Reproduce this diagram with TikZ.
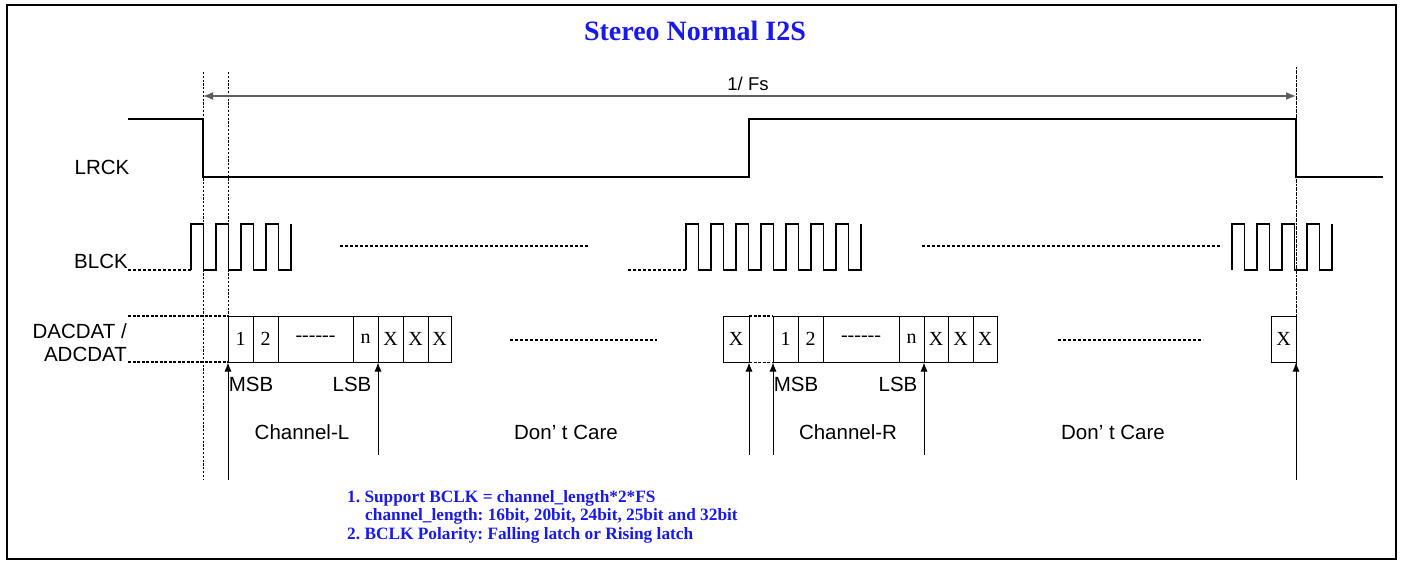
\documentclass[tikz,border=0pt]{standalone}
\usepackage{fontspec}
\setmainfont{Liberation Serif}
\setsansfont{Liberation Sans}
\usetikzlibrary{arrows.meta}
\definecolor{tblue}{RGB}{25,25,235}
\definecolor{agray}{RGB}{95,95,95}
\begin{document}
\begin{tikzpicture}[x=1pt,y=-1pt,
  sig/.style={line width=1.7pt},
  clk/.style={line width=1.4pt},
  vdash/.style={line width=0.8pt, dash pattern=on 2.2pt off 1.6pt},
  dotl/.style={line width=1.2pt, dash pattern=on 3pt off 2pt},
  dshort/.style={line width=1.2pt, dash pattern=on 3pt off 1.5pt},
  cell/.style={draw, line width=0.8pt, minimum height=46.5pt, inner sep=0pt, outer sep=0pt, anchor=north west, font=\fontsize{20}{20}\selectfont},
  lbl/.style={font=\sffamily\fontsize{20.5}{23}\selectfont, inner sep=0pt},
  note/.style={font=\frenchspacing\bfseries\fontsize{17.3}{18}\selectfont, text=tblue, anchor=base west, inner sep=0pt},
  uparrow/.style={line width=0.9pt, -{Latex[length=9pt,width=7pt]}},
  fsarrow/.style={agray, line width=1.6pt, {Latex[length=10pt,width=8pt]}-{Latex[length=10pt,width=8pt]}}
]
\useasboundingbox (0,0) rectangle (1405,561);
\draw[line width=1.6pt] (7,5) rectangle (1396,559);

% title
\node[font=\bfseries\fontsize{28}{28}\selectfont, text=tblue] (title) at (695,31) {Stereo Normal I2S};

% vertical reference lines
\draw[vdash] (203,72) -- (203,480);
\draw[vdash] (228,72) -- (228,316);
\draw[line width=0.8pt, dash pattern=on 2pt off 0.6pt] (1296,67) -- (1296,480);

% 1/Fs arrow
\coordinate (fsL) at (203,96);
\coordinate (fsR) at (1296,96);
\draw[fsarrow] (fsL) -- (fsR);
\node[lbl, font=\sffamily\fontsize{18.5}{18.5}\selectfont] (fs) at (748,84) {1/ Fs};

% LRCK
\node[lbl] (lrck) at (102,167) {LRCK};
\draw[sig] (128,119) -| (203,177) -| (749,119) -| (1296,177) -- (1383,177);

% BCLK
\node[lbl] (bclk) at (101,261) {BLCK};
\draw[dotl] (128,270) -- (191,270);
\draw[clk] (191,270) \foreach \i in {1,...,4}{ -- ++(0,-46) -- ++(12.5,0) -- ++(0,46) -- ++(12.5,0)} -- ++(0,-46);
\draw[dotl] (340,246) -- (588,246);
\draw[dotl] (628,270) -- (686,270);
\draw[clk] (686,270) \foreach \i in {1,...,7}{ -- ++(0,-46) -- ++(12.5,0) -- ++(0,46) -- ++(12.5,0)} -- ++(0,-46);
\draw[dotl] (922,246) -- (1222,246);
\draw[clk] (1232,270) \foreach \i in {1,...,4}{ -- ++(0,-46) -- ++(12.5,0) -- ++(0,46) -- ++(12.5,0)} -- ++(0,-46);

% DACDAT / ADCDAT
\node[lbl, anchor=east, align=right] (dat) at (127,343) {DACDAT /\\ADCDAT};
\draw[dshort] (128,316) -- (228,316);
\draw[dshort] (128,362) -- (228,362);

% left channel cells
\node[cell, minimum width=25pt] (a1) at (228,316) {1};
\node[cell, minimum width=25pt] (a2) at (253,316) {2};
\node[cell, minimum width=75pt] (a3) at (278,316) {-{}-{}-{}-{}-{}-};
\node[cell, minimum width=25pt] (an) at (353,316) {n};
\node[cell, minimum width=25pt] (ax1) at (378,316) {X};
\node[cell, minimum width=25pt] (ax2) at (403,316) {X};
\node[cell, minimum width=23pt] (ax3) at (428,316) {X};

\draw[dotl] (510,340) -- (657,340);

% right channel cells
\node[cell, minimum width=26pt] (bx0) at (723,316) {X};
\node[cell, minimum width=25pt] (b1) at (773,316) {1};
\node[cell, minimum width=25pt] (b2) at (798,316) {2};
\node[cell, minimum width=76pt] (b3) at (823,316) {-{}-{}-{}-{}-{}-};
\node[cell, minimum width=25pt] (bn) at (899,316) {n};
\node[cell, minimum width=24pt] (bx1) at (924,316) {X};
\node[cell, minimum width=25pt] (bx2) at (948,316) {X};
\node[cell, minimum width=24pt] (bx3) at (973,316) {X};
\draw[dshort] (bx0.north east) -- (b1.north west);
\draw[dshort] (bx0.south east) -- (b1.south west);

\draw[dotl] (1058,340) -- (1203,340);

\node[cell, minimum width=25pt] (cx) at (1271,316) {X};

% arrows from below
\coordinate (msbL) at (228,480);
\coordinate (lsbL) at (378,455);
\coordinate (r0) at (749,455);
\coordinate (msbR) at (773,455);
\coordinate (lsbR) at (924,455);
\coordinate (endR) at (1296,480);
\draw[uparrow] (msbL) -- (a1.south west);
\draw[uparrow] (lsbL) -- (ax1.south west);
\draw[uparrow] (r0) -- (bx0.south east);
\draw[uparrow] (msbR) -- (b1.south west);
\draw[uparrow] (lsbR) -- (bx1.south west);
\draw[uparrow] (endR) -- (cx.south east);

% labels
\node[lbl] (msb1) at (251,384) {MSB};
\node[lbl] (lsb1) at (352,384) {LSB};
\node[lbl] (msb2) at (796,384) {MSB};
\node[lbl] (lsb2) at (898,384) {LSB};
\node[lbl] (chl) at (302,432) {Channel-L};
\node[lbl] (dc1) at (566,432) {Don’ t Care};
\node[lbl] (chr) at (848,432) {Channel-R};
\node[lbl] (dc2) at (1113,432) {Don’ t Care};

% notes
\node[note] (n1) at (347,502) {1. Support BCLK = channel\_length*2*FS};
\node[note] (n2) at (365,520.5) {channel\_length: 16bit, 20bit, 24bit, 25bit and 32bit};
\node[note] (n3) at (347,539) {2. BCLK Polarity: Falling latch or Rising latch};
\end{tikzpicture}
\end{document}
